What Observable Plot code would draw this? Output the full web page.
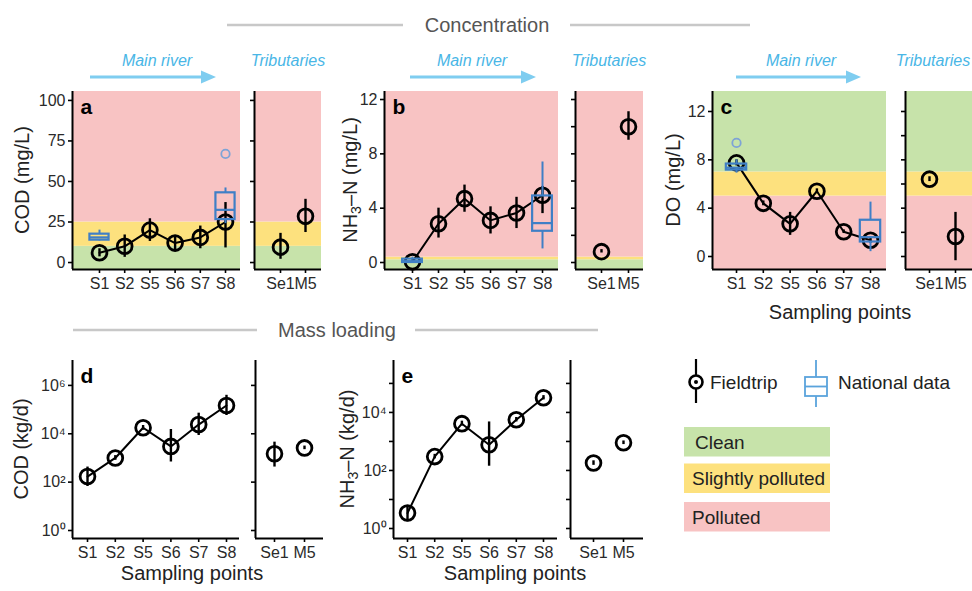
<!DOCTYPE html>
<html><head><meta charset="utf-8">
<script src="https://cdn.jsdelivr.net/npm/d3@7"></script>
<script src="https://cdn.jsdelivr.net/npm/@observablehq/plot@0.6"></script>
<style>
body{margin:0;background:#fff;}
#wrap{position:relative;width:972px;height:591px;overflow:hidden;background:#fff;font-family:"Liberation Sans",Arial,Helvetica,sans-serif;}
#wrap svg{position:absolute;}
</style></head><body><div id="wrap"></div>
<script>
const FONT = '"Liberation Sans", Arial, Helvetica, sans-serif';
const mainSites = ["S1","S2","S5","S6","S7","S8"];
const tribSites = ["Se1","M5"];
const classes = ["Clean","Slightly polluted","Polluted"];
const classColors = ["#c7e3aa","#fde17e","#f8c3c3"];
const BLUE = "#3f7fc6", OUT = "#7ea3d6";

// a: COD concentration (mg/L), fieldtrip mean and error bars
const codConcMean = [6, 10, 20, 12, 15.5, 25];
const codConcLo   = [3.5, 3.2, 13, 8, 8.5, 9];
const codConcHi   = [8.5, 17, 27, 16, 22.5, 37];
const codConcTribMean = [9.5, 28.5];
const codConcTribLo   = [2, 18.5];
const codConcTribHi   = [18, 39];
// a: national data boxplots
const codNatSites = ["S1","S8"];
const codNatLw  = [13.3, 24];
const codNatQ1  = [13.8, 26.5];
const codNatMed = [15.5, 32.5];
const codNatQ3  = [17.5, 43];
const codNatHw  = [20, 46];
const codNatOutSite = ["S8"];
const codNatOutVal  = [67];
const codBreaks = [10, 25];

// b: NH3-N concentration (mg/L)
const nh3ConcMean = [0.05, 2.85, 4.7, 3.1, 3.65, 4.95];
const nh3ConcLo   = [0, 1.8, 3.7, 2.1, 2.5, 3.6];
const nh3ConcHi   = [0.2, 4.0, 5.7, 4.1, 4.8, 5.6];
const nh3ConcTribMean = [0.8, 10.0];
const nh3ConcTribLo   = [0.7, 9.0];
const nh3ConcTribHi   = [0.95, 11.1];
const nh3NatSites = ["S1","S8"];
const nh3NatLw  = [0, 1.0];
const nh3NatQ1  = [0, 2.3];
const nh3NatMed = [0.1, 2.9];
const nh3NatQ3  = [0.25, 4.9];
const nh3NatHw  = [0.4, 7.4];
const nh3Breaks = [0.2, 0.4];

// c: DO concentration (mg/L)
const doMean = [7.75, 4.4, 2.7, 5.4, 2.05, 1.35];
const doLo   = [7.5, 4.2, 1.75, 5.2, 1.9, 1.1];
const doHi   = [8.0, 4.6, 3.65, 5.6, 2.2, 1.6];
const doTribMean = [6.4, 1.65];
const doTribLo   = [6.2, -0.35];
const doTribHi   = [6.6, 3.65];
const doNatSites = ["S1","S8"];
const doNatLw  = [6.9, 0.4];
const doNatQ1  = [7.15, 1.2];
const doNatMed = [7.35, 1.6];
const doNatQ3  = [7.65, 3.0];
const doNatHw  = [8.0, 4.5];
const doNatOutSite = ["S1"];
const doNatOutVal  = [9.4];
const doBreaks = [5, 7];

// d: COD mass loading (kg/d)
const codLoadMean = [170, 1000, 17800, 3000, 24000, 148000];
const codLoadLo   = [66, 800, 14000, 680, 8500, 57000];
const codLoadHi   = [420, 1250, 22000, 15000, 71000, 390000];
const codLoadTribMean = [1500, 2600];
const codLoadTribLo   = [420, 2200];
const codLoadTribHi   = [4500, 3100];

// e: NH3-N mass loading (kg/d)
const nh3LoadMean = [3.4, 300, 4100, 770, 5600, 32000];
const nh3LoadLo   = [1.7, 250, 3400, 140, 4700, 27000];
const nh3LoadHi   = [6.2, 360, 5000, 4700, 6700, 38000];
const nh3LoadTribMean = [180, 900];
const nh3LoadTribLo   = [150, 780];
const nh3LoadTribHi   = [215, 1040];

const linTicksA = [0, 25, 50, 75, 100];
const linTicks4 = [0, 4, 8, 12];
const linTicks2 = [0, 2, 4, 6, 8, 10, 12];
const logTicksD = [1, 1e2, 1e4, 1e6];
const logTicksE = [1, 1e1, 1e2, 1e3, 1e4, 1e5];

const SUP = {"0":"⁰","1":"¹","2":"²","3":"³","4":"⁴","5":"⁵","6":"⁶","7":"⁷","8":"⁸","9":"⁹"};
const pow10 = d => "10" + String(Math.round(Math.log10(d))).split("").map(c => SUP[c]).join("");
const pow10Even = d => (Math.round(Math.log10(d)) % 2 === 0 ? pow10(d) : "");
const blank = () => "";

function fieldRows(sites, mean, lo, hi) {
  return sites.map((site, i) => ({site, i, mean: mean[i], lo: lo[i], hi: hi[i]}));
}
function boxRows(sites, lw, q1, med, q3, hw) {
  return sites.map((site, k) => ({site, i: mainSites.indexOf(site), lw: lw[k], q1: q1[k], med: med[k], q3: q3[k], hw: hw[k]}));
}
function outRows(sites, vals) {
  return sites.map((site, k) => ({site, i: mainSites.indexOf(site), v: vals[k]}));
}
function bandRows(breaks, order, yd) {
  const edges = [yd[0], ...breaks, yd[1]];
  return order.map((cls, k) => ({cls, lo: edges[k], hi: edges[k + 1]}));
}

const wrap = document.getElementById("wrap");

function panel(cfg) {
  const {x0, x1, y0, y1} = cfg.frame;
  const mL = 62, mR = 8, mT = 8, mB = 36;
  const xd = cfg.xDomain, yd = cfg.yDomain;
  const marks = [];
  if (cfg.bands) marks.push(Plot.rect(cfg.bands, {x1: () => xd[0], x2: () => xd[1], y1: "lo", y2: "hi", fill: "cls"}));
  if (cfg.line) marks.push(Plot.line(cfg.field, {x: "i", y: "mean", stroke: "black", strokeWidth: 2}));
  marks.push(Plot.ruleX(cfg.field, {x: "i", y1: "lo", y2: "hi", stroke: "black", strokeWidth: 2.4}));
  marks.push(Plot.dot(cfg.field, {x: "i", y: "mean", r: 7.4, stroke: "black", strokeWidth: 2.8, fill: "none"}));
  if (cfg.boxes) {
    const bw = 0.38;
    marks.push(Plot.ruleX(cfg.boxes, {x: "i", y1: "lw", y2: "q1", stroke: BLUE, strokeWidth: 2}));
    marks.push(Plot.ruleX(cfg.boxes, {x: "i", y1: "q3", y2: "hw", stroke: BLUE, strokeWidth: 2}));
    marks.push(Plot.rect(cfg.boxes, {x1: d => d.i - bw, x2: d => d.i + bw, y1: "q1", y2: "q3", stroke: BLUE, strokeWidth: 2.2, fill: "none"}));
    marks.push(Plot.ruleY(cfg.boxes, {y: "med", x1: d => d.i - bw, x2: d => d.i + bw, stroke: BLUE, strokeWidth: 2.2}));
  }
  if (cfg.outliers) marks.push(Plot.dot(cfg.outliers, {x: "i", y: "v", r: 4.2, stroke: OUT, strokeWidth: 1.8, fill: "none"}));
  marks.push(Plot.ruleX([xd[0]], {stroke: "black", strokeWidth: 2}));
  marks.push(Plot.ruleY([yd[0]], {stroke: "black", strokeWidth: 2}));
  marks.push(Plot.axisX({ticks: cfg.sites.map((s, i) => i), tickFormat: i => cfg.sites[i], tickSize: 4, tickPadding: 4,
    label: null, fontSize: 16, stroke: "black", fill: "#2a2a2a", strokeWidth: 1.6}));
  marks.push(Plot.axisY({ticks: cfg.yTicks, tickFormat: cfg.yFormat, tickSize: 4, tickPadding: 3,
    label: null, fontSize: 16, stroke: "black", fill: "#2a2a2a", strokeWidth: 1.6}));
  if (cfg.letter) marks.push(Plot.text([cfg.letter], {text: d => d, frameAnchor: "top-left", textAnchor: "start", lineAnchor: "top",
    dx: 8, dy: 8, fontWeight: "bold", fontSize: 21, fill: "black"}));
  const chart = Plot.plot({
    width: x1 - x0 + mL + mR,
    height: y1 - y0 + mT + mB,
    marginLeft: mL, marginRight: mR, marginTop: mT, marginBottom: mB,
    style: {background: "transparent", fontFamily: FONT, fontSize: "16px", color: "#333", overflow: "visible", maxWidth: "none"},
    x: {type: "linear", domain: xd},
    y: {type: cfg.yType || "linear", domain: yd},
    color: {domain: classes, range: classColors},
    marks
  });
  chart.style.position = "absolute";
  chart.style.left = (x0 - mL) + "px";
  chart.style.top = (y0 - mT) + "px";
  wrap.append(chart);
}

const topY = {y0: 91, y1: 269};
const yA = [-4.3, 105.5], yB = [-0.515, 12.59], yC = [-1.076, 13.655];
const yD = [Math.pow(10, -0.331), Math.pow(10, 7.03)], yE = [Math.pow(10, -0.345), Math.pow(10, 5.79)];
const codOrder = ["Clean", "Slightly polluted", "Polluted"];
const doOrder = ["Polluted", "Slightly polluted", "Clean"];

// Panel a
panel({frame: {x0: 72, x1: 240, ...topY}, xDomain: [-1.071, 5.595], yDomain: yA, sites: mainSites, letter: "a",
  bands: bandRows(codBreaks, codOrder, yA), line: true,
  field: fieldRows(mainSites, codConcMean, codConcLo, codConcHi),
  boxes: boxRows(codNatSites, codNatLw, codNatQ1, codNatMed, codNatQ3, codNatHw),
  outliers: outRows(codNatOutSite, codNatOutVal), yTicks: linTicksA, yFormat: d => String(d)});
panel({frame: {x0: 254, x1: 321, ...topY}, xDomain: [-1.04, 1.64], yDomain: yA, sites: tribSites,
  bands: bandRows(codBreaks, codOrder, yA), field: fieldRows(tribSites, codConcTribMean, codConcTribLo, codConcTribHi),
  yTicks: linTicksA, yFormat: blank});
// Panel b
panel({frame: {x0: 384, x1: 558, ...topY}, xDomain: [-1.077, 5.615], yDomain: yB, sites: mainSites, letter: "b",
  bands: bandRows(nh3Breaks, codOrder, yB), line: true,
  field: fieldRows(mainSites, nh3ConcMean, nh3ConcLo, nh3ConcHi),
  boxes: boxRows(nh3NatSites, nh3NatLw, nh3NatQ1, nh3NatMed, nh3NatQ3, nh3NatHw),
  yTicks: linTicks4, yFormat: d => String(d)});
panel({frame: {x0: 575, x1: 643, ...topY}, xDomain: [-0.963, 1.556], yDomain: yB, sites: tribSites,
  bands: bandRows(nh3Breaks, codOrder, yB), field: fieldRows(tribSites, nh3ConcTribMean, nh3ConcTribLo, nh3ConcTribHi),
  yTicks: linTicks2, yFormat: blank});
// Panel c
panel({frame: {x0: 712, x1: 886, ...topY}, xDomain: [-0.896, 5.597], yDomain: yC, sites: mainSites, letter: "c",
  bands: bandRows(doBreaks, doOrder, yC), line: true,
  field: fieldRows(mainSites, doMean, doLo, doHi),
  boxes: boxRows(doNatSites, doNatLw, doNatQ1, doNatMed, doNatQ3, doNatHw),
  outliers: outRows(doNatOutSite, doNatOutVal), yTicks: linTicks4, yFormat: d => String(d)});
panel({frame: {x0: 905, x1: 972, ...topY}, xDomain: [-0.923, 1.654], yDomain: yC, sites: tribSites,
  bands: bandRows(doBreaks, doOrder, yC), field: fieldRows(tribSites, doTribMean, doTribLo, doTribHi),
  yTicks: linTicks2, yFormat: blank});
// Panel d
const botY = {y0: 360, y1: 538};
panel({frame: {x0: 72, x1: 239, ...botY}, xDomain: [-0.54, 5.468], yDomain: yD, yType: "log", sites: mainSites, letter: "d",
  line: true, field: fieldRows(mainSites, codLoadMean, codLoadLo, codLoadHi), yTicks: logTicksD, yFormat: pow10});
panel({frame: {x0: 255, x1: 323, ...botY}, xDomain: [-0.633, 1.633], yDomain: yD, yType: "log", sites: tribSites,
  field: fieldRows(tribSites, codLoadTribMean, codLoadTribLo, codLoadTribHi), yTicks: logTicksD, yFormat: blank});
// Panel e
panel({frame: {x0: 393, x1: 557, ...botY}, xDomain: [-0.515, 5.515], yDomain: yE, yType: "log", sites: mainSites, letter: "e",
  line: true, field: fieldRows(mainSites, nh3LoadMean, nh3LoadLo, nh3LoadHi), yTicks: logTicksE, yFormat: pow10Even});
panel({frame: {x0: 570, x1: 643, ...botY}, xDomain: [-0.767, 1.667], yDomain: yE, yType: "log", sites: tribSites,
  field: fieldRows(tribSites, nh3LoadTribMean, nh3LoadTribLo, nh3LoadTribHi), yTicks: logTicksE, yFormat: blank});

// Overlay: headers, annotations, axis titles, legends
const NS = "http://www.w3.org/2000/svg";
const ov = document.createElementNS(NS, "svg");
ov.setAttribute("width", 972); ov.setAttribute("height", 591);
ov.style.left = "0px"; ov.style.top = "0px"; ov.style.pointerEvents = "none";
let s = "";
const LBLUE = "#49b6e6", ARROW = "#7fcdf0";
// section headers
s += `<g stroke="#c8c8c8" stroke-width="2.5"><line x1="227" y1="25" x2="403" y2="25"/><line x1="570" y1="25" x2="750" y2="25"/>
<line x1="73" y1="330" x2="257" y2="330"/><line x1="415" y1="330" x2="598" y2="330"/></g>`;
s += `<g font-family='${FONT}' font-size="20" fill="#555" text-anchor="middle"><text x="487" y="32">Concentration</text><text x="337" y="337">Mass loading</text></g>`;
// Main river / Tributaries
const mainRiver = [{cx: 157, a0: 90, a1: 216}, {cx: 472, a0: 410, a1: 536}, {cx: 801, a0: 736, a1: 861}];
const tribs = [288, 609, 933];
s += `<g font-family='${FONT}' font-size="16" font-style="italic" fill="${LBLUE}" text-anchor="middle">`;
mainRiver.forEach(m => { s += `<text x="${m.cx}" y="66">Main river</text>`; });
tribs.forEach(t => { s += `<text x="${t}" y="66">Tributaries</text>`; });
s += `</g>`;
mainRiver.forEach(m => {
  s += `<line x1="${m.a0}" y1="77" x2="${m.a1 - 12}" y2="77" stroke="${ARROW}" stroke-width="3"/>`;
  s += `<polygon points="${m.a1 - 15},70.5 ${m.a1},77 ${m.a1 - 15},83.5" fill="${ARROW}"/>`;
});
// y axis titles
const sub3 = `NH<tspan dy="4" font-size="14">3</tspan><tspan dy="-4">–N</tspan>`;
const yTitles = [
  {x: 22, y: 180, t: "COD (mg/L)"}, {x: 350, y: 180, t: sub3 + " (mg/L)"}, {x: 673, y: 180, t: "DO (mg/L)"},
  {x: 21, y: 449, t: "COD (kg/d)"}, {x: 347, y: 449, t: sub3 + " (kg/d)"}
];
s += `<g font-family='${FONT}' font-size="20" fill="#222" text-anchor="middle">`;
yTitles.forEach(d => { s += `<text transform="translate(${d.x},${d.y}) rotate(-90)" dy="0.36em">${d.t}</text>`; });
s += `<text x="840" y="319">Sampling points</text><text x="192" y="580">Sampling points</text><text x="515" y="580">Sampling points</text>`;
s += `</g>`;
// Fieldtrip / National data legend
s += `<line x1="696" y1="359" x2="696" y2="403" stroke="black" stroke-width="2.2"/>
<circle cx="696" cy="382" r="6.5" fill="white" stroke="black" stroke-width="2.6"/><circle cx="696" cy="382" r="2" fill="black"/>
<line x1="816" y1="360" x2="816" y2="407" stroke="#5aa3dc" stroke-width="1.8"/>
<rect x="805" y="377" width="22" height="19" fill="white" stroke="#5aa3dc" stroke-width="1.8"/>
<line x1="805" y1="386.5" x2="827" y2="386.5" stroke="#5aa3dc" stroke-width="1.8"/>`;
s += `<g font-family='${FONT}' font-size="19" fill="#222"><text x="710" y="389">Fieldtrip</text><text x="838" y="389">National data</text></g>`;
// class legend
const legendY = [427, 463.5, 502];
s += `<g font-family='${FONT}' font-size="19" fill="#222">`;
classes.forEach((c, k) => {
  s += `<rect x="684" y="${legendY[k]}" width="146" height="29.5" fill="${classColors[k]}"/>`;
  s += `<text x="${k === 0 ? 695 : 692}" y="${legendY[k] + 21.5}">${c}</text>`;
});
s += `</g>`;
ov.innerHTML = s;
wrap.append(ov);
</script></body></html>
